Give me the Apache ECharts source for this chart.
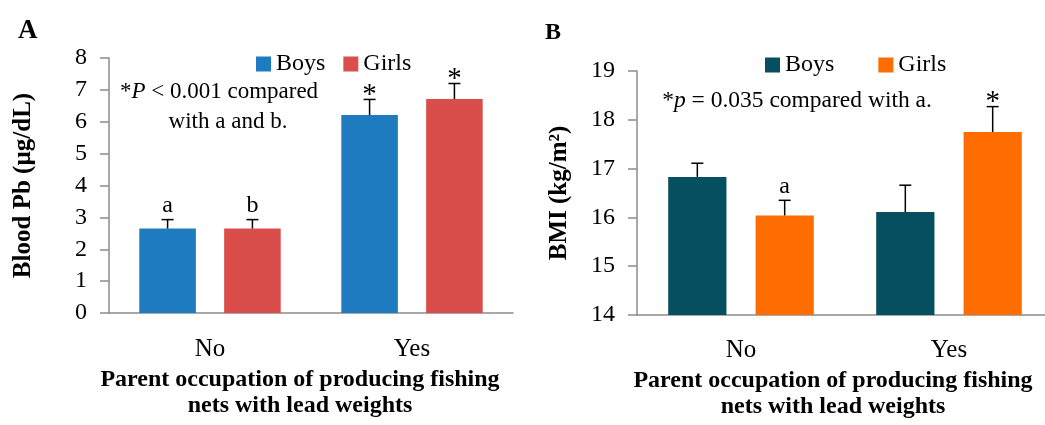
<!DOCTYPE html>
<html>
<head>
<meta charset="utf-8">
<script src="https://cdn.jsdelivr.net/npm/echarts@6/dist/echarts.min.js"></script>
<style>
  html, body { margin: 0; padding: 0; background: #fff; }
  #main { width: 1045px; height: 425px; }
</style>
</head>
<body>
<div id="main"></div>
<script>
// 数据
const categories = ['No', 'Yes'];

// Panel A: blood Pb (µg/dL)
const pbBoys = [2.65, 6.21];
const pbBoysErr = [0.28, 0.49];
const pbBoysMark = ['a', '*'];
const pbGirls = [2.65, 6.71];
const pbGirlsErr = [0.28, 0.49];
const pbGirlsMark = ['b', '*'];

// Panel B: BMI (kg/m2)
const bmiBoys = [16.83, 16.11];
const bmiBoysErr = [0.28, 0.55];
const bmiBoysMark = ['', ''];
const bmiGirls = [16.04, 17.75];
const bmiGirlsErr = [0.31, 0.52];
const bmiGirlsMark = ['a', '*'];

const SERIF = 'Liberation Serif';
const AXIS_GRAY = '#8c8c8c';
const xTitle = 'Parent occupation of producing fishing\nnets with lead weights';

// 误差线 (只画向上的一半)
function errorSeries(values, errs, marks, side, gridIdx) {
  return {
    type: 'custom',
    xAxisIndex: gridIdx,
    yAxisIndex: gridIdx,
    z: 5,
    silent: true,
    clip: false,
    data: values.map((v, i) => [i, v, v + errs[i]]),
    renderItem(params, api) {
      const base = api.coord([api.value(0), api.value(1)]);
      const top = api.coord([api.value(0), api.value(2)]);
      const catW = api.size([1, 0])[0];
      const x = base[0] + side * 0.21 * catW;
      const mark = marks[params.dataIndex];
      const children = [
        { type: 'line', shape: { x1: x, y1: base[1], x2: x, y2: top[1] },
          style: { stroke: '#000', lineWidth: 1.5 } },
        { type: 'line', shape: { x1: x - 6, y1: top[1], x2: x + 6, y2: top[1] },
          style: { stroke: '#000', lineWidth: 1.5 } },
      ];
      if (mark) {
        const star = mark === '*';
        children.push({
          type: 'text',
          style: {
            text: mark, x: x, y: star ? top[1] + 10 : top[1] - 2,
            align: 'center', verticalAlign: 'bottom',
            font: (star ? '29px ' : '24px ') + SERIF, fill: '#000',
          },
        });
      }
      return { type: 'group', children };
    },
  };
}

function xAxisCfg(gridIdx, labelMargin, nameGap, shift) {
  return {
    type: 'category',
    gridIndex: gridIdx,
    data: categories,
    axisLine: { lineStyle: { color: AXIS_GRAY, width: 1.5 } },
    axisTick: { length: 8, lineStyle: { color: AXIS_GRAY, width: 1.5 } },
    axisLabel: { margin: labelMargin, fontFamily: SERIF, fontSize: 25, color: '#000' },
    name: xTitle,
    nameLocation: 'middle',
    nameGap: nameGap,
    nameTextStyle: {
      fontFamily: SERIF, fontSize: 24, fontWeight: 'bold', color: '#000',
      lineHeight: 26, padding: [0, shift, 0, 0],
    },
  };
}

function yAxisCfg(gridIdx, min, max, name, nameGap) {
  return {
    type: 'value',
    gridIndex: gridIdx,
    min: min,
    max: max,
    interval: 1,
    splitLine: { show: false },
    axisLine: { show: true, lineStyle: { color: AXIS_GRAY, width: 1.5 } },
    axisTick: { show: true, length: 9, lineStyle: { color: AXIS_GRAY, width: 1.5 } },
    axisLabel: { margin: 22, fontFamily: SERIF, fontSize: 24, color: '#000' },
    name: name,
    nameLocation: 'middle',
    nameGap: nameGap,
    nameTextStyle: { fontFamily: SERIF, fontSize: 25, fontWeight: 'bold', color: '#000' },
  };
}

const config = {
  animation: false,
  backgroundColor: '#fff',
  textStyle: { fontFamily: SERIF },
  grid: [
    { left: 109, top: 58, width: 404, height: 255, outerBoundsMode: 'none', containLabel: false },
    { left: 637, top: 71, width: 416, height: 244, outerBoundsMode: 'none', containLabel: false },
  ],
  legend: [
    {
      left: 251, top: 47, itemWidth: 15, itemHeight: 15, itemGap: 18, icon: 'rect',
      data: ['Boys', 'Girls'],
      textStyle: { fontFamily: SERIF, fontSize: 24, color: '#000' },
    },
    {
      left: 760, top: 48, itemWidth: 15, itemHeight: 15, itemGap: 38, icon: 'rect',
      data: ['Boys ', 'Girls '],
      textStyle: { fontFamily: SERIF, fontSize: 24, color: '#000' },
    },
  ],
  xAxis: [xAxisCfg(0, 24, 40, 22), xAxisCfg(1, 23, 36, 24)],
  yAxis: [
    yAxisCfg(0, 0, 8, 'Blood Pb (µg/dL)', 73),
    yAxisCfg(1, 14, 19, 'BMI (kg/m²)', 65),
  ],
  graphic: [
    { type: 'text', left: 18, top: 18, style: { text: 'A', font: 'bold 27px ' + SERIF, fill: '#000' } },
    { type: 'text', left: 545, top: 21, style: { text: 'B', font: 'bold 24px ' + SERIF, fill: '#000' } },
    {
      type: 'text', x: 219, y: 92,
      style: {
        text: '{n|*}{i|P}{n| < 0.001 compared}',
        align: 'center', verticalAlign: 'middle',
        rich: {
          n: { fontFamily: SERIF, fontSize: 23, fill: '#000' },
          i: { fontFamily: SERIF, fontSize: 23, fontStyle: 'italic', fill: '#000' },
        },
      },
    },
    {
      type: 'text', x: 228, y: 122,
      style: { text: 'with a and b.', align: 'center', verticalAlign: 'middle',
        font: '23px ' + SERIF, fill: '#000' },
    },
    {
      type: 'text', x: 797, y: 101,
      style: {
        text: '{n|*}{i|p}{n| = 0.035 compared with a.}',
        align: 'center', verticalAlign: 'middle',
        rich: {
          n: { fontFamily: SERIF, fontSize: 23.5, fill: '#000' },
          i: { fontFamily: SERIF, fontSize: 23.5, fontStyle: 'italic', fill: '#000' },
        },
      },
    },
  ],
  series: [
    { name: 'Boys', type: 'bar', xAxisIndex: 0, yAxisIndex: 0, data: pbBoys,
      barWidth: '28%', barGap: '50%', itemStyle: { color: '#1f7bc0' } },
    { name: 'Girls', type: 'bar', xAxisIndex: 0, yAxisIndex: 0, data: pbGirls,
      barWidth: '28%', barGap: '50%', itemStyle: { color: '#d94e4b' } },
    { name: 'Boys ', type: 'bar', xAxisIndex: 1, yAxisIndex: 1, data: bmiBoys,
      barWidth: '28%', barGap: '50%', itemStyle: { color: '#054f60' } },
    { name: 'Girls ', type: 'bar', xAxisIndex: 1, yAxisIndex: 1, data: bmiGirls,
      barWidth: '28%', barGap: '50%', itemStyle: { color: '#ff6d00' } },
    errorSeries(pbBoys, pbBoysErr, pbBoysMark, -1, 0),
    errorSeries(pbGirls, pbGirlsErr, pbGirlsMark, 1, 0),
    errorSeries(bmiBoys, bmiBoysErr, bmiBoysMark, -1, 1),
    errorSeries(bmiGirls, bmiGirlsErr, bmiGirlsMark, 1, 1),
  ],
};

const myChart = echarts.init(document.getElementById('main'));
myChart.setOption(config);
</script>
</body>
</html>
